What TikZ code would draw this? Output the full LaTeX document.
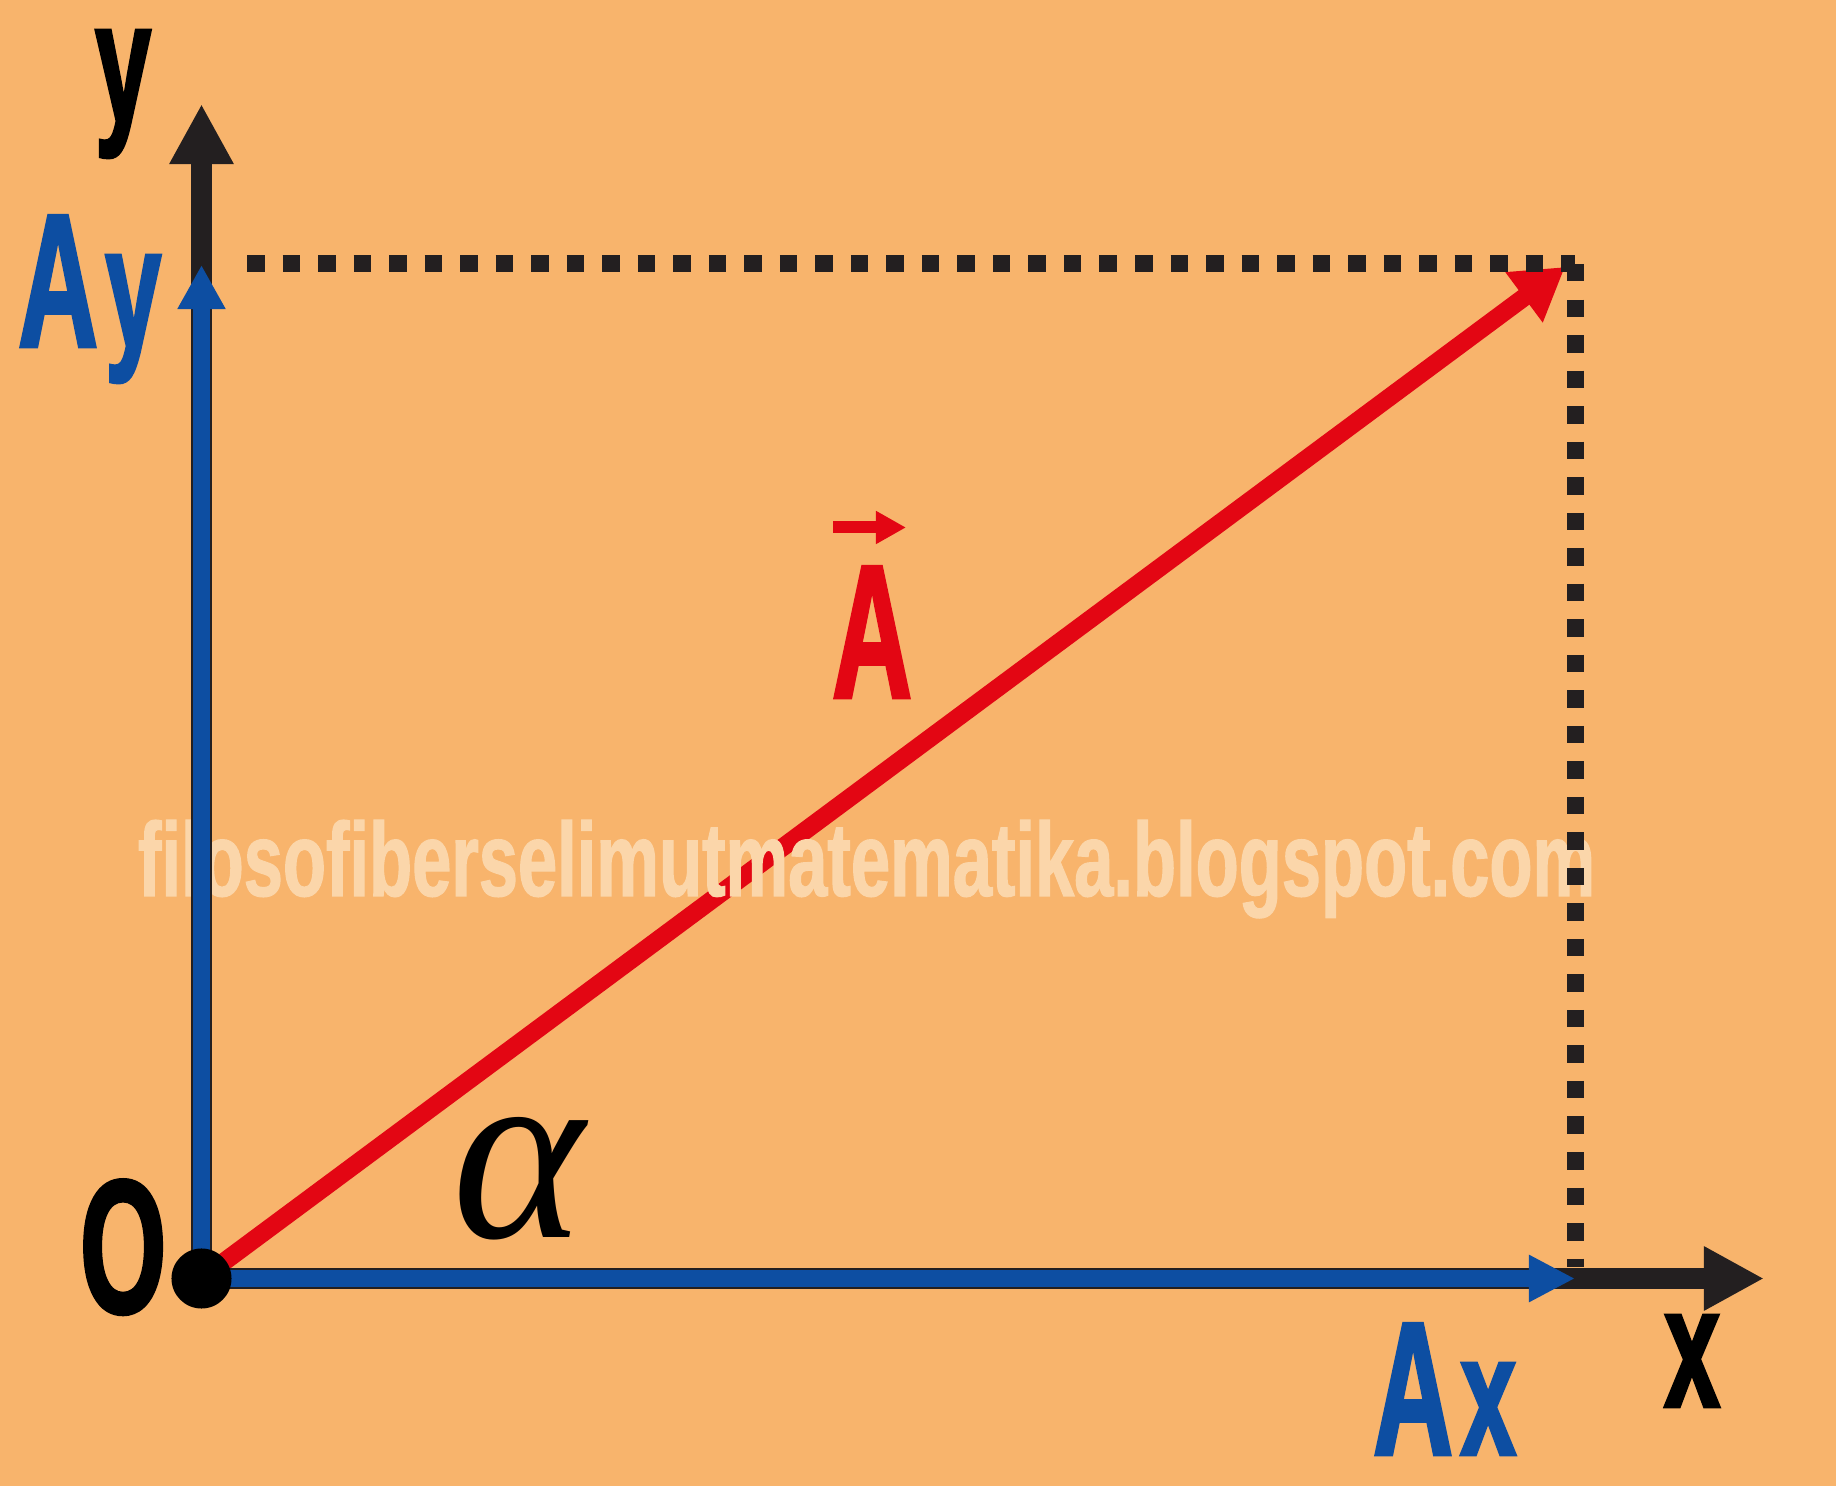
\documentclass[tikz,border=0pt]{standalone}
\usepackage{graphicx}
\usepackage{fontspec}
\setmainfont{Liberation Sans}
\newfontfamily\condfont[FakeStretch=0.58, FakeBold=1.5]{Liberation Sans Bold}
\newfontfamily\wmfont[FakeStretch=0.6, FakeBold=1]{Liberation Sans Bold}
\newfontfamily\greekfont{Liberation Serif}
\usetikzlibrary{arrows.meta}
\definecolor{bg}{RGB}{248,180,108}
\definecolor{axisblack}{RGB}{35,31,32}
\definecolor{vblue}{RGB}{13,78,162}
\definecolor{vred}{RGB}{227,6,19}
\definecolor{wmark}{RGB}{251,214,170}
\newcommand{\lowc}{\fontsize{49.5}{55}\selectfont}
\begin{document}
\begin{tikzpicture}[x=0.01cm,y=-0.01cm,
  lab/.style={inner sep=0, outer sep=0, anchor=base west, font=\condfont\fontsize{54.4}{60}\selectfont},
  axisline/.style={draw=axisblack, line width=0.216cm, -{Triangle[length=0.6cm,width=0.6cm]}},
  comp/.style={draw=vblue, line width=0.17cm},
  dots/.style={draw=axisblack, line width=0.17cm, dash pattern=on 0.175cm off 0.18cm},
]
\useasboundingbox (0,0) rectangle (1836,1486);
\fill[bg] (0,0) rectangle (1836,1486);
% key points
\coordinate (O) at (201.5,1278.5);
\coordinate (ytip) at (201.5,104);
\coordinate (xtip) at (1764,1278.5);
\coordinate (aytip) at (201.5,265);
\coordinate (axtip) at (1575,1278.5);
\coordinate (Atip) at (1565,267);
\coordinate (hs) at (247,263.5);
\coordinate (he) at (1575,263.5);
\coordinate (vs) at (1575.5,264);
\coordinate (ve) at (1575.5,1267);
\coordinate (arrS) at (833,527.5);
\coordinate (arrE) at (906,527.5);
% red vector
\draw[vred, line width=0.18cm, -{Triangle[length=0.51cm,width=0.59cm]}] (O) -- (Atip);
% watermark
\node[inner sep=0, outer sep=0, anchor=base west, text=wmark] (wm) at (138,896)
  {\resizebox{14.56cm}{0.76cm}{\wmfont filosofiberselimutmatematika.blogspot.com}};
% dotted projections
\draw[dots] (hs) -- (he);
\draw[dots] (vs) -- (ve);
% axes
\draw[axisline] (O) -- (ytip);
\draw[axisline] (O) -- (xtip);
% components
\draw[comp, -{Triangle[length=0.44cm,width=0.45cm]}] (O) -- (aytip);
\draw[comp, -{Triangle[length=0.46cm,width=0.44cm]}] (O) -- (axtip);
% origin dot
\node[circle, fill=black, minimum size=0.6cm, inner sep=0] (Odot) at (O) {};
% labels
\node[lab, text=black] (ylab) at (95,122) {\lowc y};
\node[lab, text=vblue] (aylab) at (18,347) {A\kern0.07cm\lowc y};
\node[lab, text=black] (olab) at (80,1313) {O};
\node[lab, text=vblue] (axlab) at (1373,1455) {A\kern0.07cm\lowc x};
\node[lab, text=black] (xlab) at (1664,1407) {\lowc x};
\node[lab, text=vred] (Alab) at (832,698) {A};
\draw[vred, line width=0.12cm, -{Triangle[length=0.3cm,width=0.31cm]}] (arrS) -- (arrE);
\node[inner sep=0, outer sep=0, anchor=base west] (alab) at (452,1237) {\resizebox{1.32cm}{1.2cm}{\greekfont\itshape α}};
\end{tikzpicture}
\end{document}
